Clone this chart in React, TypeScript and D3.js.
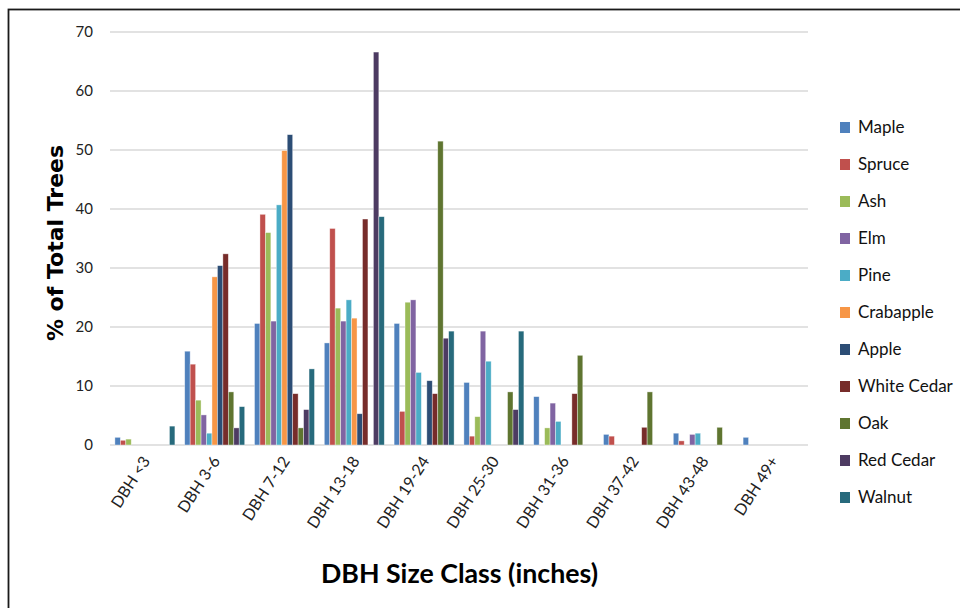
import React, { useRef, useEffect } from 'react';
import * as d3 from 'd3';

const categories: string[] = ["DBH <3", "DBH 3-6", "DBH 7-12", "DBH 13-18", "DBH 19-24", "DBH 25-30", "DBH 31-36", "DBH 37-42", "DBH 43-48", "DBH 49+"];

const seriesNames: string[] = ["Maple", "Spruce", "Ash", "Elm", "Pine", "Crabapple", "Apple", "White Cedar", "Oak", "Red Cedar", "Walnut"];

const maple: number[] = [1.3, 15.9, 20.6, 17.3, 20.6, 10.6, 8.2, 1.8, 2.0, 1.3];
const spruce: number[] = [0.8, 13.7, 39.1, 36.7, 5.7, 1.5, 0, 1.5, 0.7, 0];
const ash: number[] = [1.0, 7.6, 36.0, 23.2, 24.2, 4.8, 2.9, 0, 0, 0];
const elm: number[] = [0, 5.1, 21.0, 21.0, 24.6, 19.3, 7.1, 0, 1.8, 0];
const pine: number[] = [0, 2.0, 40.7, 24.6, 12.3, 14.2, 4.0, 0, 2.0, 0];
const crabapple: number[] = [0, 28.5, 49.9, 21.5, 0, 0, 0, 0, 0, 0];
const apple: number[] = [0, 30.4, 52.6, 5.3, 10.9, 0, 0, 0, 0, 0];
const whiteCedar: number[] = [0, 32.4, 8.7, 38.3, 8.7, 0, 8.7, 3.0, 0, 0];
const oak: number[] = [0, 9.0, 2.9, 0, 51.5, 9.0, 15.2, 9.0, 3.0, 0];
const redCedar: number[] = [0, 2.9, 6.0, 66.6, 18.1, 6.0, 0, 0, 0, 0];
const walnut: number[] = [3.2, 6.5, 12.9, 38.7, 19.3, 19.3, 0, 0, 0, 0];

const yTicks: number[] = [0, 10, 20, 30, 40, 50, 60, 70];

const colors: string[] = ["#4F81BD", "#C0504D", "#9BBB59", "#8064A2", "#4BACC6", "#F79646", "#2C4D75", "#772C2A", "#5F7530", "#4D3B62", "#276A7C"];

interface ISeries {
    name: string;
    values: number[];
}

const series: ISeries[] = [maple, spruce, ash, elm, pine, crabapple, apple, whiteCedar, oak, redCedar, walnut]
    .map((values, i) => ({ name: seriesNames[i], values }));

const width = 960;
const height = 608;
const calibri = "Lato, 'Liberation Sans', Arial, sans-serif";

function BarChart() {
    const d3Container = useRef(null);

    useEffect(() => {
        if (!d3Container.current) return;
        const svg = d3.select(d3Container.current);
        svg.selectAll("*").remove();

        const x0 = d3.scaleBand<string>().domain(categories).range([110, 808]);
        const x1 = d3.scaleBand<string>().domain(seriesNames).range([4.9, x0.bandwidth() - 4.9]);
        const y = d3.scaleLinear().domain([0, 70]).range([445, 32]);

        // frame
        svg.append("rect")
            .attr("x", 8.5).attr("y", 9.5)
            .attr("width", 980).attr("height", 640)
            .attr("fill", "white")
            .attr("stroke", "#1a1a1a")
            .attr("stroke-width", 1.8);

        // gridlines
        svg.append("g")
            .selectAll("line")
            .data(yTicks)
            .join("line")
                .attr("x1", 110).attr("x2", 808)
                .attr("y1", d => y(d)).attr("y2", d => y(d))
                .attr("stroke", "#d9d9d9")
                .attr("stroke-width", 1.5);

        // y tick labels
        svg.append("g")
                .attr("font-family", calibri)
                .attr("font-size", 15)
                .attr("text-anchor", "end")
                .attr("fill", "#222")
            .selectAll("text")
            .data(yTicks)
            .join("text")
                .attr("x", 93)
                .attr("y", d => y(d) + 5)
                .text(d => d);

        // bars
        svg.append("g")
            .selectAll("g")
            .data(series)
            .join("g")
                .attr("fill", (d, i) => colors[i])
            .selectAll("rect")
            .data(d => d.values.map((v, j) => ({ name: d.name, cat: categories[j], value: v })).filter(e => e.value > 0))
            .join("rect")
                .attr("x", d => (x0(d.cat) as number) + (x1(d.name) as number))
                .attr("width", x1.bandwidth())
                .attr("y", d => y(d.value))
                .attr("height", d => y(0) - y(d.value))
                .attr("stroke", "white")
                .attr("stroke-opacity", 0.55)
                .attr("stroke-width", 0.7);

        // x tick labels
        svg.append("g")
                .attr("font-family", calibri)
                .attr("font-size", 16)
                .attr("text-anchor", "end")
                .attr("fill", "#222")
            .selectAll("text")
            .data(categories)
            .join("text")
                .attr("transform", d => `translate(${(x0(d) as number) + x0.bandwidth() / 2 + 6},${461}) rotate(-57)`)
                .text(d => d);

        // y title
        svg.append("text")
            .attr("transform", "translate(63,243) rotate(-90)")
            .attr("text-anchor", "middle")
            .attr("font-family", "'DejaVu Sans', Verdana, sans-serif")
            .attr("font-weight", "bold")
            .attr("font-size", 22)
            .attr("fill", "#000")
            .text("% of Total Trees");

        // x title
        svg.append("text")
            .attr("x", 321)
            .attr("y", 583)
            .attr("textLength", 277)
            .attr("lengthAdjust", "spacingAndGlyphs")
            .attr("font-family", calibri)
            .attr("font-weight", "bold")
            .attr("font-size", 26)
            .attr("fill", "#000")
            .text("DBH Size Class (inches)");

        // legend
        const legend = svg.append("g")
            .selectAll("g")
            .data(series)
            .join("g")
                .attr("transform", (d, i) => `translate(840,${122 + i * 37})`);
        legend.append("rect")
            .attr("width", 10).attr("height", 11)
            .attr("fill", (d, i) => colors[i]);
        legend.append("text")
            .attr("x", 18)
            .attr("y", 11)
            .attr("font-family", calibri)
            .attr("font-size", 17)
            .attr("fill", "#111")
            .text(d => d.name);
    }, []);

    return (
        <svg
            width={width}
            height={height}
            ref={d3Container}
            style={{ position: "absolute", left: 0, top: 0, display: "block" }}
        />
    );
}

export default function App() {
    return <BarChart />;
}
